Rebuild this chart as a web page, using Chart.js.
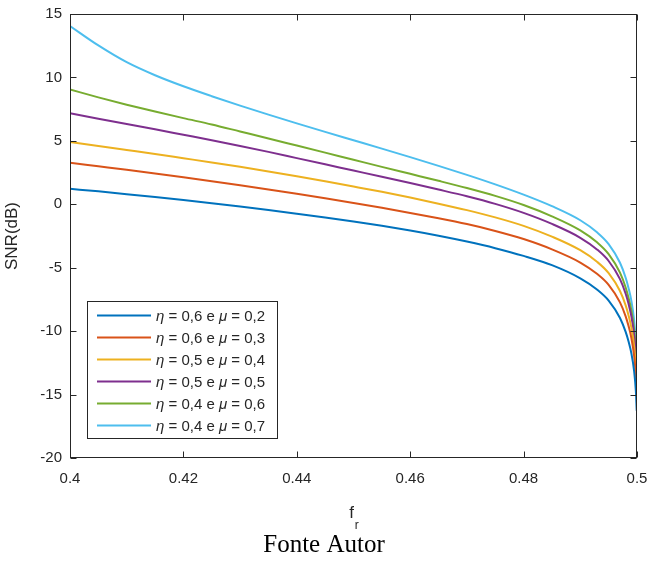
<!DOCTYPE html>
<html>
<head>
<meta charset="utf-8">
<script src="https://cdn.jsdelivr.net/npm/chart.js@4.4.1/dist/chart.umd.min.js"></script>
<style>
  html, body { margin: 0; padding: 0; background: #fff; }
</style>
</head>
<body>
<canvas id="grafico" width="648" height="565" style="width:648px;height:565px;display:block"></canvas>
<script>
/* Eixo x: frequência normalizada f_r (malha mais densa perto de 0,5, onde a curva cai) */
const fr = [0.400, 0.405, 0.410, 0.415, 0.420, 0.425, 0.430, 0.435, 0.440, 0.445,
            0.450, 0.455, 0.460, 0.465, 0.470, 0.475, 0.480, 0.485, 0.490, 0.493,
            0.495, 0.497, 0.498, 0.4985, 0.499, 0.4995, 0.4998, 0.49995];

/* SNR (dB), uma lista por curva */
const snrEta06Mu02 = [1.22, 1.02, 0.80, 0.57, 0.33, 0.08, -0.18, -0.45, -0.74, -1.04,
                      -1.36, -1.70, -2.07, -2.48, -2.94, -3.46, -4.07, -4.80, -5.84, -6.74,
                      -7.59, -8.96, -10.06, -10.80, -11.73, -13.18, -14.73, -16.28];
const snrEta06Mu03 = [3.28, 3.00, 2.72, 2.43, 2.13, 1.82, 1.50, 1.17, 0.83, 0.47,
                      0.10, -0.28, -0.68, -1.10, -1.56, -2.10, -2.74, -3.55, -4.59, -5.50,
                      -6.35, -7.73, -8.83, -9.58, -10.52, -11.98, -13.54, -15.10];
const snrEta05Mu04 = [4.92, 4.60, 4.28, 3.96, 3.63, 3.30, 2.95, 2.59, 2.21, 1.81,
                      1.40, 0.98, 0.53, 0.05, -0.46, -1.03, -1.70, -2.55, -3.62, -4.55,
                      -5.43, -6.84, -7.97, -8.74, -9.70, -11.19, -12.80, -14.40];
const snrEta05Mu05 = [7.17, 6.75, 6.33, 5.91, 5.48, 5.05, 4.60, 4.13, 3.64, 3.15,
                      2.66, 2.17, 1.67, 1.16, 0.63, 0.03, -0.68, -1.55, -2.64, -3.58,
                      -4.47, -5.90, -7.05, -7.83, -8.81, -10.33, -11.96, -13.59];
const snrEta04Mu06 = [9.05, 8.43, 7.85, 7.31, 6.79, 6.29, 5.74, 5.19, 4.63, 4.07,
                      3.51, 2.95, 2.40, 1.85, 1.28, 0.66, -0.06, -0.95, -2.06, -3.02,
                      -3.93, -5.39, -6.56, -7.36, -8.35, -9.90, -11.56, -13.22];
const snrEta04Mu07 = [14.05, 12.52, 11.20, 10.17, 9.30, 8.52, 7.78, 7.07, 6.38, 5.71,
                      5.05, 4.39, 3.72, 3.03, 2.32, 1.57, 0.76, -0.15, -1.26, -2.23,
                      -3.14, -4.61, -5.79, -6.59, -7.59, -9.15, -10.82, -12.49];

const etaLabels = ['0,6', '0,6', '0,5', '0,5', '0,4', '0,4'];
const muLabels  = ['0,2', '0,3', '0,4', '0,5', '0,6', '0,7'];

const xTicks = [0.4, 0.42, 0.44, 0.46, 0.48, 0.5];
const yTicks = [-20, -15, -10, -5, 0, 5, 10, 15];

const series = [snrEta06Mu02, snrEta06Mu03, snrEta05Mu04, snrEta05Mu05, snrEta04Mu06, snrEta04Mu07];
const cores  = ['#0072BD', '#D95319', '#EDB120', '#7E2F8E', '#77AC30', '#4DBEEE'];

const corEixo = '#262626';
const fonteSans = '"Liberation Sans", Arial, sans-serif';

/* Moldura fechada com marcas de escala para dentro (estilo MATLAB) */
const molduraPlugin = {
  id: 'moldura',
  afterDatasetsDraw(chart) {
    const { ctx, chartArea: a, scales: { x, y } } = chart;
    const L = Math.round(a.left) + 0.5, R = Math.round(a.right) - 0.5;
    const T = Math.round(a.top) + 0.5, B = Math.round(a.bottom) - 0.5;
    ctx.save();
    ctx.strokeStyle = corEixo;
    ctx.lineWidth = 1;
    ctx.strokeRect(L, T, R - L, B - T);
    ctx.beginPath();
    xTicks.forEach(v => {
      const px = Math.round(x.getPixelForValue(v)) + 0.5;
      ctx.moveTo(px, B); ctx.lineTo(px, B - 6);
      ctx.moveTo(px, T); ctx.lineTo(px, T + 6);
    });
    yTicks.forEach(v => {
      const py = Math.round(y.getPixelForValue(v)) + 0.5;
      ctx.moveTo(L, py); ctx.lineTo(L + 6, py);
      ctx.moveTo(R, py); ctx.lineTo(R - 6, py);
    });
    ctx.stroke();
    ctx.restore();
  }
};

/* Legenda dentro da área do gráfico, com eta e mu em itálico */
const legendaPlugin = {
  id: 'legenda',
  afterDraw(chart) {
    const { ctx, chartArea: a } = chart;
    const bx = a.left + 17.5, by = a.top + 287.5, bw = 190, bh = 137;
    ctx.save();
    ctx.fillStyle = '#fff';
    ctx.fillRect(bx, by, bw, bh);
    ctx.strokeStyle = corEixo;
    ctx.lineWidth = 1;
    ctx.strokeRect(bx, by, bw, bh);
    chart.data.datasets.forEach((ds, i) => {
      const yy = by + 14 + i * 22;
      ctx.strokeStyle = ds.borderColor;
      ctx.lineWidth = 2;
      ctx.beginPath();
      ctx.moveTo(bx + 9.5, yy);
      ctx.lineTo(bx + 63.5, yy);
      ctx.stroke();
      let tx = bx + 68.5;
      ctx.fillStyle = corEixo;
      ctx.textBaseline = 'middle';
      ds.label.split(/([ημ])/).forEach(parte => {
        if (!parte) return;
        const grego = parte === 'η' || parte === 'μ';
        ctx.font = (grego ? 'italic ' : '') + '15px ' + fonteSans;
        ctx.fillText(parte, tx, yy + 1);
        tx += ctx.measureText(parte).width;
      });
    });
    ctx.restore();
  }
};

/* Rótulo do eixo x com subscrito (f_r) e legenda da figura */
const textosPlugin = {
  id: 'textos',
  afterDraw(chart) {
    const { ctx, chartArea: a, scales: { x } } = chart;
    const cx = x.getPixelForValue(0.45);
    ctx.save();
    ctx.fillStyle = corEixo;
    ctx.textBaseline = 'alphabetic';
    ctx.textAlign = 'left';
    ctx.font = '17px ' + fonteSans;
    const wf = ctx.measureText('f').width;
    ctx.fillText('f', cx - wf / 2 - 2, a.bottom + 60);
    ctx.font = '12px ' + fonteSans;
    ctx.fillText('r', cx + wf / 2 - 1, a.bottom + 71);
    ctx.fillStyle = '#000';
    ctx.textAlign = 'center';
    ctx.font = '25px "Liberation Serif", "Times New Roman", serif';
    ctx.fillText('Fonte Autor', chart.width / 2, a.bottom + 94);
    ctx.restore();
  }
};

const ctx = document.getElementById('grafico').getContext('2d');

new Chart(ctx, {
  type: 'line',
  data: {
    datasets: series.map((serie, i) => ({
      label: `η = ${etaLabels[i]} e μ = ${muLabels[i]}`,
      data: fr.map((f, k) => ({ x: f, y: serie[k] })),
      borderColor: cores[i],
      backgroundColor: cores[i],
      borderWidth: 2,
      pointRadius: 0,
      cubicInterpolationMode: 'monotone',
      fill: false
    }))
  },
  options: {
    responsive: false,
    animation: false,
    devicePixelRatio: 1,
    layout: { padding: { left: 0, right: 11, top: 14, bottom: 0 } },
    plugins: {
      legend: { display: false },
      tooltip: { enabled: false }
    },
    scales: {
      x: {
        type: 'linear',
        min: 0.4,
        max: 0.5,
        afterBuildTicks: s => { s.ticks = xTicks.map(v => ({ value: v })); },
        afterFit: s => { s.height = 107; s.paddingLeft = 0; s.paddingRight = 0; },
        grid: { display: false, tickLength: 0 },
        border: { display: false },
        ticks: {
          color: corEixo,
          font: { family: fonteSans, size: 15 },
          padding: 12,
          maxRotation: 0,
          callback: v => String(v)
        }
      },
      y: {
        type: 'linear',
        min: -20,
        max: 15,
        afterBuildTicks: s => { s.ticks = yTicks.map(v => ({ value: v })); },
        afterFit: s => { s.width = 70; s.paddingTop = 0; s.paddingBottom = 0; },
        grid: { display: false, tickLength: 0 },
        border: { display: false },
        title: {
          display: true,
          text: 'SNR(dB)',
          color: corEixo,
          font: { family: fonteSans, size: 17 },
          padding: { top: 2, bottom: 0 }
        },
        ticks: {
          color: corEixo,
          font: { family: fonteSans, size: 15 },
          padding: 8,
          callback: v => String(v)
        }
      }
    }
  },
  plugins: [molduraPlugin, legendaPlugin, textosPlugin]
});
</script>
</body>
</html>
